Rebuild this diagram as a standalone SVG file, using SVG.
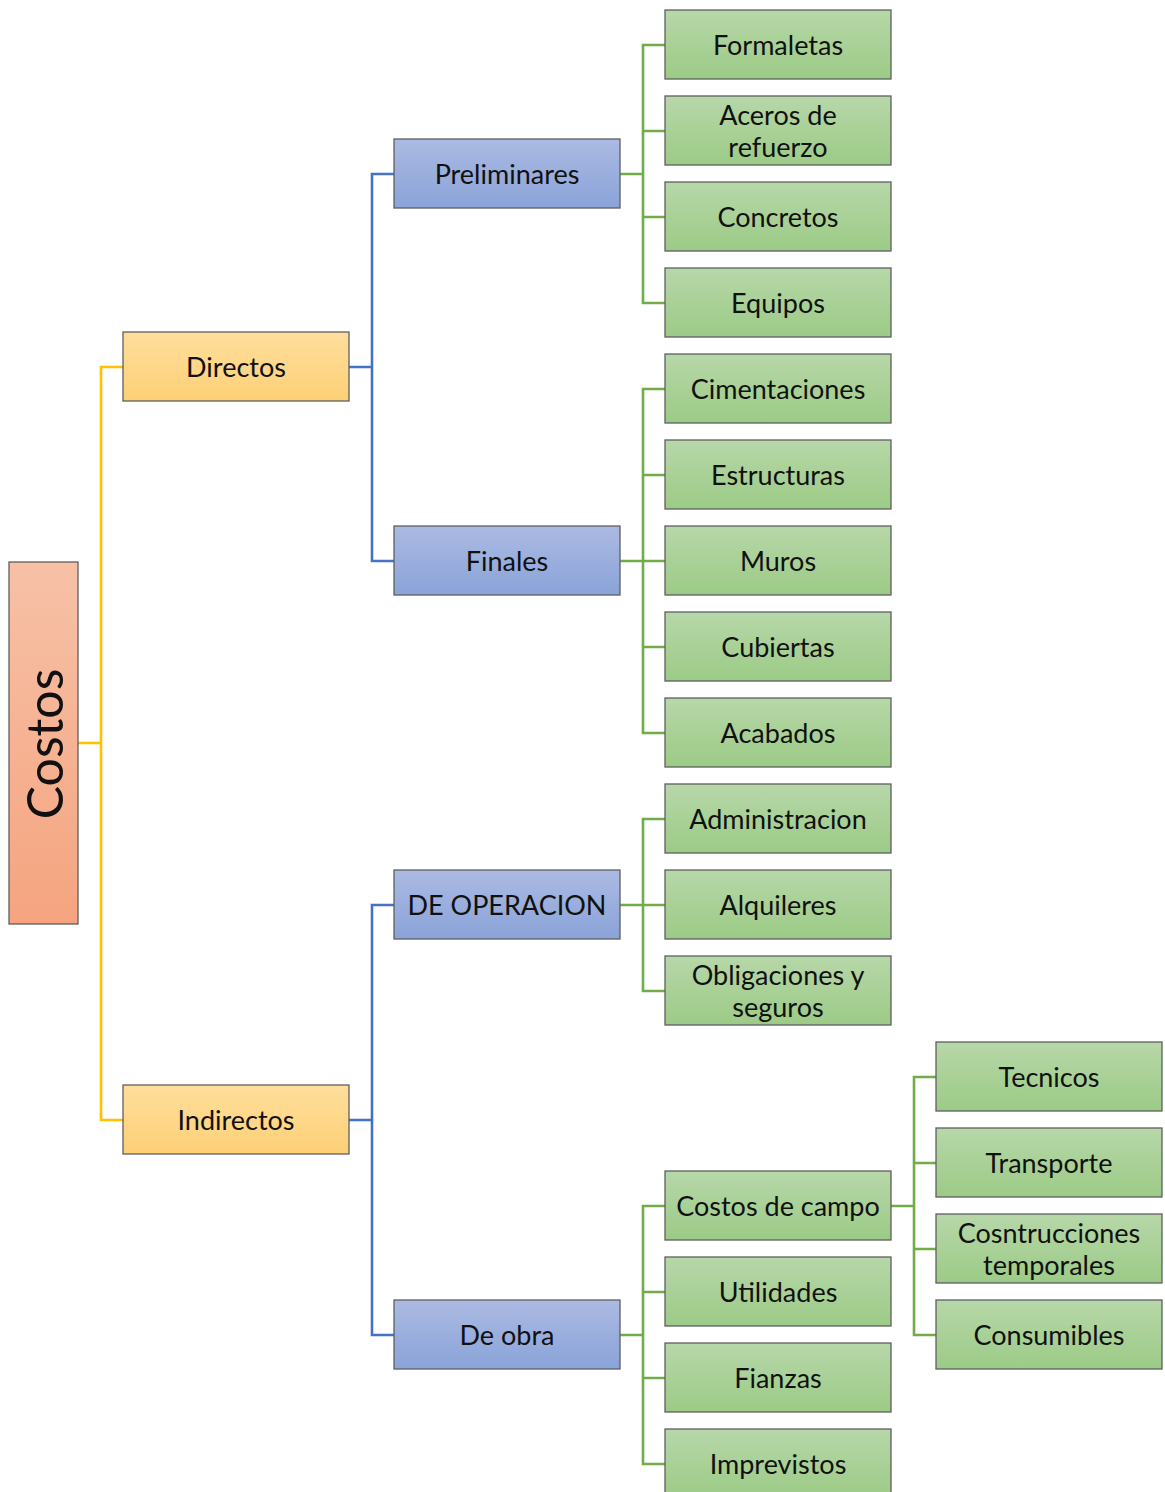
<svg xmlns="http://www.w3.org/2000/svg" width="1165" height="1492" viewBox="0 0 1165 1492">
<defs>
<linearGradient id="gO" x1="0" y1="0" x2="0" y2="1"><stop offset="0" stop-color="#f7c1a7"/><stop offset="1" stop-color="#f5a47f"/></linearGradient>
<linearGradient id="gY" x1="0" y1="0" x2="0" y2="1"><stop offset="0" stop-color="#ffde9c"/><stop offset="1" stop-color="#fdd076"/></linearGradient>
<linearGradient id="gB" x1="0" y1="0" x2="0" y2="1"><stop offset="0" stop-color="#abbae2"/><stop offset="1" stop-color="#8aa3d9"/></linearGradient>
<linearGradient id="gG" x1="0" y1="0" x2="0" y2="1"><stop offset="0" stop-color="#b7d7a9"/><stop offset="1" stop-color="#9ccb86"/></linearGradient>
</defs>
<style>
rect{stroke:#5f5f5f;stroke-width:1.3}
.o{fill:url(#gO)}.y{fill:url(#gY)}.b{fill:url(#gB)}.g{fill:url(#gG)}
text{font-family:Lato,"Open Sans","Liberation Sans",sans-serif;font-size:27px;fill:#111;text-anchor:middle;dominant-baseline:central}
.c{fill:none;stroke-width:2.6}
.cy{stroke:#ffc000}.cb{stroke:#4472c4}.cg{stroke:#70ad47}
</style>
<rect width="1165" height="1492" fill="#fff" style="stroke:none"/>
<g id="connectors">
<path class="c cy" d="M78 743H101M123 367H101V1120H123"/>
<path class="c cb" d="M349 367H372M394 174H372V561H394"/>
<path class="c cb" d="M349 1120H372M394 905H372V1335H394"/>
<path class="c cg" d="M620 174H643M665 45H643V303H665M643 131H665M643 217H665"/>
<path class="c cg" d="M620 561H643M665 389H643V733H665M643 475H665M643 561H665M643 647H665"/>
<path class="c cg" d="M620 905H643M665 819H643V991H665M643 905H665"/>
<path class="c cg" d="M620 1335H643M665 1206H643V1464H665M643 1292H665M643 1378H665"/>
<path class="c cg" d="M891 1206H914M936 1077H914V1335H936M914 1163H936M914 1249H936"/>
</g>
<g id="costos"><rect class="o" x="9" y="562" width="69" height="362"/><text transform="translate(44 744) rotate(-90)" style="font-size:50px">Costos</text></g>
<g id="directos"><rect class="y" x="123" y="332" width="226" height="69"/><text x="236" y="366">Directos</text></g>
<g id="indirectos"><rect class="y" x="123" y="1085" width="226" height="69"/><text x="236" y="1119">Indirectos</text></g>
<g id="preliminares"><rect class="b" x="394" y="139" width="226" height="69"/><text x="507" y="173">Preliminares</text></g>
<g id="finales"><rect class="b" x="394" y="526" width="226" height="69"/><text x="507" y="560">Finales</text></g>
<g id="deoperacion"><rect class="b" x="394" y="870" width="226" height="69"/><text x="507" y="904">DE OPERACION</text></g>
<g id="deobra"><rect class="b" x="394" y="1300" width="226" height="69"/><text x="507" y="1334">De obra</text></g>
<g id="formaletas"><rect class="g" x="665" y="10" width="226" height="69"/><text x="778" y="44">Formaletas</text></g>
<g id="aceros"><rect class="g" x="665" y="96" width="226" height="69"/><text x="778" y="114">Aceros de</text><text x="778" y="146">refuerzo</text></g>
<g id="concretos"><rect class="g" x="665" y="182" width="226" height="69"/><text x="778" y="216">Concretos</text></g>
<g id="equipos"><rect class="g" x="665" y="268" width="226" height="69"/><text x="778" y="302">Equipos</text></g>
<g id="cimentaciones"><rect class="g" x="665" y="354" width="226" height="69"/><text x="778" y="388">Cimentaciones</text></g>
<g id="estructuras"><rect class="g" x="665" y="440" width="226" height="69"/><text x="778" y="474">Estructuras</text></g>
<g id="muros"><rect class="g" x="665" y="526" width="226" height="69"/><text x="778" y="560">Muros</text></g>
<g id="cubiertas"><rect class="g" x="665" y="612" width="226" height="69"/><text x="778" y="646">Cubiertas</text></g>
<g id="acabados"><rect class="g" x="665" y="698" width="226" height="69"/><text x="778" y="732">Acabados</text></g>
<g id="administracion"><rect class="g" x="665" y="784" width="226" height="69"/><text x="778" y="818">Administracion</text></g>
<g id="alquileres"><rect class="g" x="665" y="870" width="226" height="69"/><text x="778" y="904">Alquileres</text></g>
<g id="obligaciones"><rect class="g" x="665" y="956" width="226" height="69"/><text x="778" y="974">Obligaciones y</text><text x="778" y="1006">seguros</text></g>
<g id="costoscampo"><rect class="g" x="665" y="1171" width="226" height="69"/><text x="778" y="1205">Costos de campo</text></g>
<g id="utilidades"><rect class="g" x="665" y="1257" width="226" height="69"/><text x="778" y="1291">Utilidades</text></g>
<g id="fianzas"><rect class="g" x="665" y="1343" width="226" height="69"/><text x="778" y="1377">Fianzas</text></g>
<g id="imprevistos"><rect class="g" x="665" y="1429" width="226" height="69"/><text x="778" y="1463">Imprevistos</text></g>
<g id="tecnicos"><rect class="g" x="936" y="1042" width="226" height="69"/><text x="1049" y="1076">Tecnicos</text></g>
<g id="transporte"><rect class="g" x="936" y="1128" width="226" height="69"/><text x="1049" y="1162">Transporte</text></g>
<g id="construcciones"><rect class="g" x="936" y="1214" width="226" height="69"/><text x="1049" y="1232">Cosntrucciones</text><text x="1049" y="1264">temporales</text></g>
<g id="consumibles"><rect class="g" x="936" y="1300" width="226" height="69"/><text x="1049" y="1334">Consumibles</text></g>
</svg>
